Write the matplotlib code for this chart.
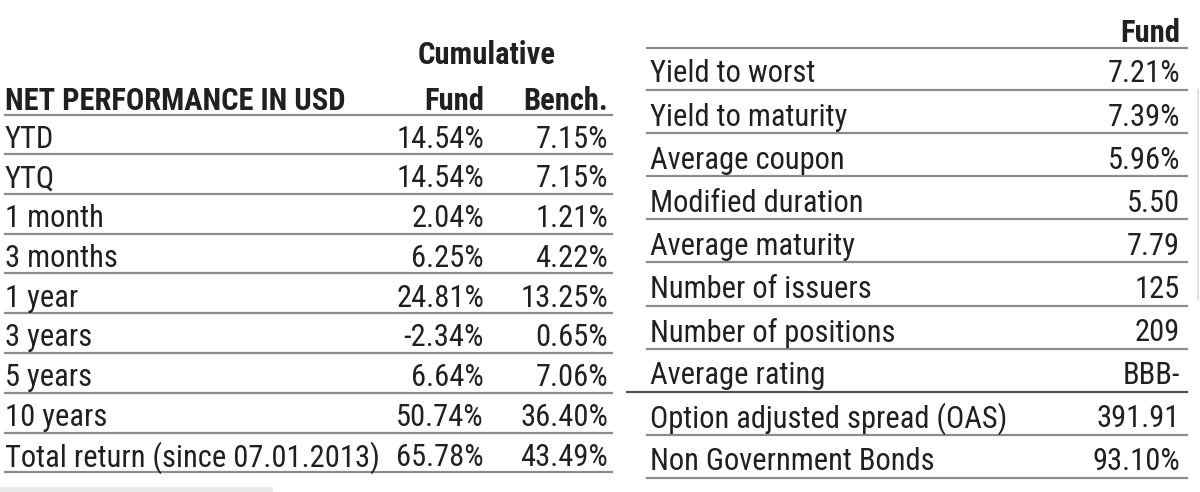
import matplotlib as mp
import matplotlib.pyplot as plot

# performance table
perf_labels = ["YTD", "YTQ", "1 month", "3 months", "1 year", "3 years",
               "5 years", "10 years", "Total return (since 07.01.2013)"]
perf_fund = ["14.54%", "14.54%", "2.04%", "6.25%", "24.81%", "-2.34%",
             "6.64%", "50.74%", "65.78%"]
perf_bench = ["7.15%", "7.15%", "1.21%", "4.22%", "13.25%", "0.65%",
              "7.06%", "36.40%", "43.49%"]

# characteristics table
char_labels = ["Yield to worst", "Yield to maturity", "Average coupon",
               "Modified duration", "Average maturity", "Number of issuers",
               "Number of positions", "Average rating",
               "Option adjusted spread (OAS)", "Non Government Bonds"]
char_fund = ["7.21%", "7.39%", "5.96%", "5.50", "7.79", "125", "209", "BBB-",
             "391.91", "93.10%"]

text_color = "#202020"
line_color = "#8e8c8a"
fs = 22
lw = 1.6
dy = 3  # text sits a little below row centre

mp.rcParams["font.family"] = ["Roboto Condensed", "Archivo Narrow", "DejaVu Sans"]

fig = plot.figure(figsize=(12, 4.92), dpi=100)
ax = fig.add_axes([0, 0, 1, 1])
ax.set_xlim(0, 1200)
ax.set_ylim(492, 0)
ax.axis("off")

# ---- left table
x0, x_fund, x_bench, x1 = 5, 484, 608, 612
ax.text(487, 52 + dy, "Cumulative", fontsize=fs, fontweight="bold", ha="center", va="center", color=text_color)
ax.text(x0, 98 + dy, "NET PERFORMANCE IN USD", fontsize=fs, fontweight="bold", va="center", color=text_color)
ax.text(x_fund, 98 + dy, "Fund", fontsize=fs, fontweight="bold", ha="right", va="center", color=text_color)
ax.text(x_bench, 98 + dy, "Bench.", fontsize=fs, fontweight="bold", ha="right", va="center", color=text_color)
ax.plot([x0, x1], [115, 115], color=line_color, lw=lw)

top, pitch = 136, 39.8
for i, lab in enumerate(perf_labels):
    y = top + i * pitch
    ax.text(x0, y + dy, lab, fontsize=fs, va="center", color=text_color)
    ax.text(x_fund, y + dy, perf_fund[i], fontsize=fs, ha="right", va="center", color=text_color)
    ax.text(x_bench, y + dy, perf_bench[i], fontsize=fs, ha="right", va="center", color=text_color)
    ax.plot([x0, x1], [y + 18, y + 18], color=line_color, lw=lw)

# ---- right table
rx0, rx_val, rx1 = 650, 1180, 1187
ax.text(rx_val, 30 + dy, "Fund", fontsize=fs, fontweight="bold", ha="right", va="center", color=text_color)
ax.plot([647, rx1], [48, 48], color=line_color, lw=lw)

rtop, rpitch = 71, 43.1
for i, lab in enumerate(char_labels):
    y = rtop + i * rpitch
    ax.text(rx0, y + dy, lab, fontsize=fs, va="center", color=text_color)
    ax.text(rx_val, y + dy, char_fund[i], fontsize=fs, ha="right", va="center", color=text_color)
    start = 627 if lab == "Average rating" else 647
    col = "#555352" if lab == "Average rating" else line_color
    ax.plot([start, rx1], [y + 19, y + 19], color=col, lw=lw)

# faint decorations
ax.plot([1198, 1198], [90, 300], color="#dcdcdc", lw=1.2)
ax.plot([0, 270], [490, 490], color="#e8e8ec", lw=4)

plot.savefig("out.png", dpi=100)
